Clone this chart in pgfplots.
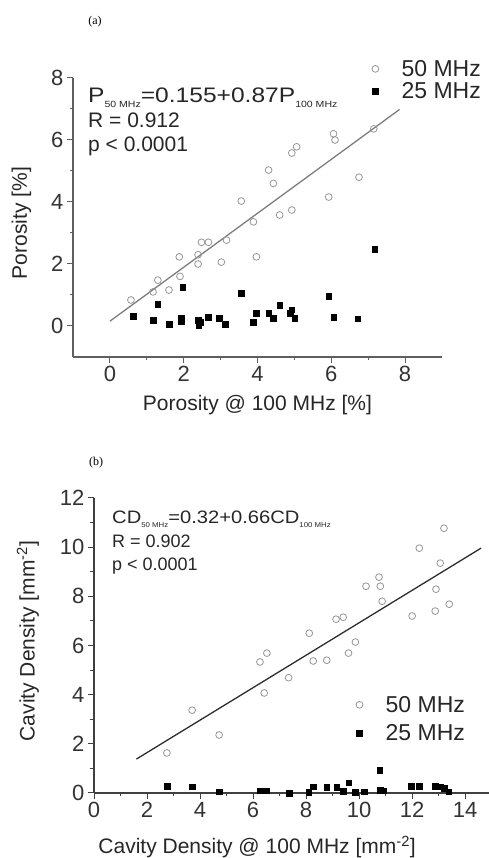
\documentclass[border=0pt]{standalone}
\usepackage{fontspec}
\setmainfont{Liberation Sans}
\newfontfamily\serif{Liberation Serif}
\usepackage{pgfplots}
\pgfplotsset{compat=1.18}

\definecolor{circgrey}{RGB}{150,150,150}
\definecolor{fitgreyA}{RGB}{125,125,125}
\definecolor{fitgreyB}{RGB}{45,45,45}
\definecolor{axgrey}{RGB}{95,95,95}

% 25 MHz vs 100 MHz porosity
\pgfplotstableread{
x y
0.57 0.84
1.17 1.10
1.30 1.48
1.60 1.16
1.88 2.23
1.90 1.60
2.39 2.00
2.39 2.30
2.48 2.70
2.67 2.70
3.02 2.06
3.16 2.77
3.56 4.03
3.89 3.36
3.97 2.23
4.30 5.03
4.43 4.60
4.60 3.58
4.93 3.74
4.93 5.58
5.06 5.78
5.93 4.16
6.06 6.20
6.10 6.00
6.75 4.80
7.15 6.36
}\poroA

\pgfplotstableread{
x y
0.63 0.32
1.17 0.19
1.30 0.71
1.60 0.06
1.93 0.26
1.93 0.16
1.97 1.26
2.39 0.19
2.41 0.03
2.45 0.12
2.67 0.28
2.97 0.26
3.13 0.06
3.56 1.06
3.89 0.13
3.97 0.42
4.30 0.42
4.43 0.26
4.60 0.68
4.88 0.42
4.93 0.52
5.01 0.26
5.93 0.97
6.06 0.29
6.72 0.23
7.18 2.48
}\poroB

\pgfplotstableread{
x y
2.75 1.63
3.70 3.37
4.72 2.36
6.26 5.33
6.52 5.69
6.42 4.07
7.34 4.69
8.12 6.50
8.27 5.37
8.78 5.40
9.13 7.07
9.40 7.15
9.60 5.69
9.86 6.14
10.26 8.41
10.75 8.78
10.80 8.41
10.87 7.80
12.00 7.20
12.27 9.96
12.87 7.40
12.90 8.29
13.06 9.35
13.20 10.77
13.40 7.68
}\cavA

\pgfplotstableread{
x y
2.75 0.28
3.70 0.25
4.72 0.05
6.26 0.10
6.45 0.10
6.52 0.10
7.36 0.00
8.10 0.03
8.27 0.25
8.78 0.23
9.16 0.23
9.40 0.08
9.60 0.42
9.86 0.03
10.20 0.05
10.78 0.92
10.80 0.12
10.90 0.10
11.97 0.27
12.27 0.27
12.87 0.27
13.06 0.26
13.20 0.20
13.38 0.06
}\cavB

\pgfplotsset{
  myax/.style={
    scale only axis,
    anchor=south west,
    axis lines*=left,
    axis line style={axgrey, line width=1.2pt},
    tick style={axgrey, line width=1pt},
    major tick length=6pt,
    minor tick length=3.5pt,
    tick align=outside,
    minor tick num=1,
    /pgf/number format/assume math mode=true,
    tick label style={font=\fontsize{22}{22}\selectfont, text=black!80},
    label style={font=\fontsize{21}{21}\selectfont, text=black!85},
    legend style={draw=none, fill=none, font=\fontsize{23}{23}\selectfont,
      inner sep=0pt, text=black!85},
    legend image code/.code={
      \draw[##1] plot coordinates {(0pt,0pt)};
      \path (-4pt,0pt) (24pt,0pt);
    },
    legend cell align=left,
    clip=false,
  },
  opencirc/.style={only marks, mark=o, mark size=3.4pt,
    mark options={draw=circgrey, line width=0.8pt}},
  fillsq/.style={only marks, mark=square*, mark size=2.8pt,
    mark options={fill=black, draw=black}},
}

\begin{document}
\begin{tikzpicture}
\useasboundingbox (0,0) rectangle (489pt,858pt);

\node[font=\serif\fontsize{12}{12}\selectfont] at (95pt,836pt) {(a)};
\node[font=\serif\fontsize{12}{12}\selectfont] at (96pt,395pt) {(b)};

% ---- panel (a) ----
\begin{axis}[myax,
  at={(73pt,501pt)},
  width=369pt, height=279pt,
  xmin=-1, xmax=9, ymin=-1, ymax=8,
  xtick={0,2,...,8}, ytick={0,2,...,8},
  xlabel={Porosity @ 100 MHz [\%]},
  ylabel={Porosity [\%]},
  xlabel style={at={(axis description cs:0.5,-0.172)}, anchor=center},
  ylabel style={at={(axis description cs:-0.14,0.48)}, anchor=center},
  legend style={at={(axis description cs:0.8076,1.072)}, anchor=north west,
    row sep=1pt},
]
\addplot[opencirc] table {\poroA};
\addlegendentry{50 MHz}
\addplot[fillsq] table {\poroB};
\addlegendentry{25 MHz}
\addplot[fitgreyA, line width=1.3pt, forget plot] coordinates {(0,0.155) (7.85,6.985)};
\end{axis}

\begin{scope}[font=\fontsize{21}{21}\selectfont, text=black!85]
\node[anchor=base west, inner sep=0pt] at (88pt,755pt)
  {\scalebox{1.17}[1]{P\raisebox{-5pt}{\fontsize{9}{9}\selectfont 50 MHz}=0.155+0.87P\raisebox{-5pt}{\fontsize{9}{9}\selectfont 100 MHz}}};
\node[anchor=base west, inner sep=0pt] at (88pt,730pt) {R = 0.912};
\node[anchor=base west, inner sep=0pt] at (88pt,706pt) {p < 0.0001};
\end{scope}

% ---- panel (b) ----
\begin{axis}[myax,
  at={(94pt,65pt)},
  width=395pt, height=295pt,
  xmin=0, xmax=14.9, ymin=0, ymax=12,
  xtick={0,2,...,14}, ytick={0,2,...,12},
  axis line style={black!75, line width=1.2pt},
  tick style={black!75, line width=1pt},
  xlabel={Cavity Density @ 100 MHz [mm\textsuperscript{-2}]},
  ylabel={Cavity Density [mm\textsuperscript{-2}]},
  xlabel style={at={(axis description cs:0.413,-0.183)}, anchor=center},
  ylabel style={at={(axis description cs:-0.167,0.515)}, anchor=center},
  legend style={at={(axis description cs:0.661,0.336)}, anchor=north west,
    row sep=7pt},
]
\addplot[opencirc] table {\cavA};
\addlegendentry{50 MHz}
\addplot[fillsq] table {\cavB};
\addlegendentry{25 MHz}
\addplot[fitgreyB, line width=1.3pt, forget plot] coordinates {(1.6,1.38) (14.6,9.96)};
\end{axis}

\begin{scope}[font=\fontsize{18}{18}\selectfont, text=black!85]
\node[anchor=base west, inner sep=0pt] at (112pt,334pt)
  {\scalebox{1.12}[1]{CD\raisebox{-4pt}{\fontsize{7}{7}\selectfont 50 MHz}=0.32+0.66CD\raisebox{-4pt}{\fontsize{7}{7}\selectfont 100 MHz}}};
\node[anchor=base west, inner sep=0pt] at (112pt,310pt) {R = 0.902};
\node[anchor=base west, inner sep=0pt] at (112pt,287pt) {p < 0.0001};
\end{scope}

\end{tikzpicture}
\end{document}
